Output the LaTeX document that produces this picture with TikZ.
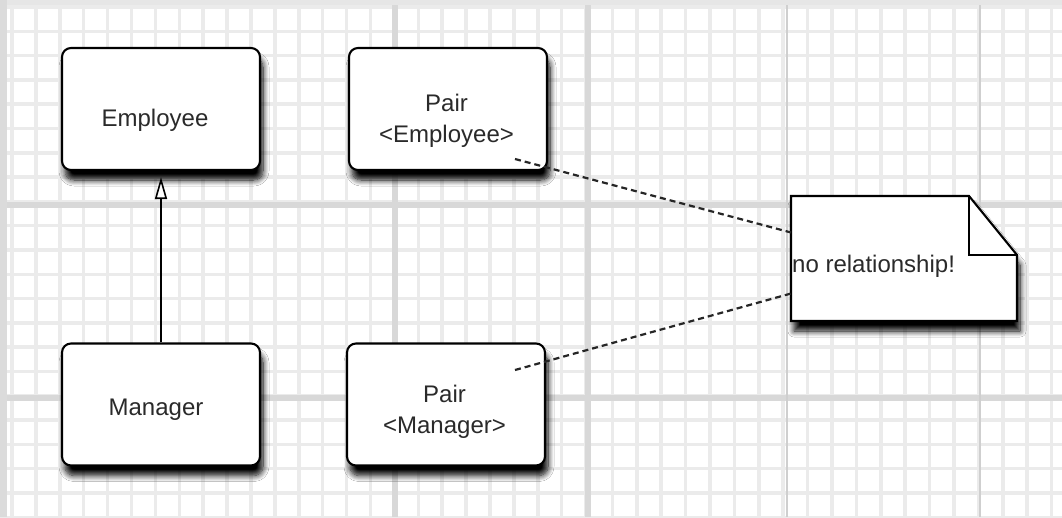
\documentclass[tikz,border=0pt]{standalone}
\usepackage{fontspec}
\setmainfont{Liberation Sans}
\usetikzlibrary{arrows.meta,shadows.blur}
\definecolor{textcol}{HTML}{2A2A2A}
\definecolor{gridcol}{HTML}{EBEBEB}
\definecolor{gridheavy}{HTML}{D8D8D8}
\definecolor{gridthin}{HTML}{CFCFCF}
% place a (possibly multi-line) label with a small offset inside its box
\newcommand{\offsetlabel}[3]{\raisebox{#2}[\height][\depth]{\hspace*{#1}\begin{tabular}{@{}c@{}}#3\end{tabular}}}
\tikzset{
  gridline/.style={draw=gridcol, line width=3.5pt},
  gridmajor/.style={draw=gridheavy, line width=6pt},
  gridfine/.style={draw=gridthin, line width=1.5pt},
  softshadow/.style={blur shadow={shadow xshift=3pt, shadow yshift=-10pt,
      shadow blur radius=6pt, shadow opacity=100, shadow blur steps=10}},
  classbox/.style={draw=black, line width=2.1pt, rounded corners=9pt, fill=white,
      minimum width=198pt, minimum height=122pt, inner sep=0pt,
      font=\fontsize{24}{31}\selectfont, text=textcol, softshadow},
  noteframe/.style={minimum width=226pt, minimum height=125pt, inner sep=0pt, outer sep=0pt},
  notebody/.style={draw=black, line width=2.1pt, fill=white, softshadow},
  notefold/.style={draw=black, line width=1.7pt},
  notelabel/.style={anchor=west, inner sep=0pt, font=\fontsize{24}{31}\selectfont, text=textcol},
  inherit/.style={draw=black, line width=2pt, shorten >=6pt,
      -{Triangle[length=22pt, width=12pt, fill=white, line width=1.6pt]}},
  dependency/.style={draw=black!85, line width=2.2pt, dash pattern=on 6pt off 4pt}
}
\begin{document}
\begin{tikzpicture}[x=1pt, y=-1pt]
\useasboundingbox (0,0) rectangle (1062,517);
\fill[white] (0,0) rectangle (1062,517);

% squared paper in the background
\foreach \i in {0,...,24} \draw[gridline] ({12+23.9*\i},0) -- ++(0,517);
\foreach \i in {1,...,19} \draw[gridline] ({588+24.4*\i},0) -- ++(0,517);
\foreach \j in {0,...,21} \draw[gridline] (0,{7+24.3*\j}) -- ++(1062,0);
\draw[gridmajor] (0,205) -- (1062,205);
\draw[gridmajor] (0,398) -- (1062,398);
\draw[gridmajor] (395,0) -- (395,517);
\draw[gridmajor] (588,0) -- (588,517);
\draw[gridfine] (787,0) -- (787,517);
\draw[gridfine] (980,0) -- (980,517);
\fill[gridcol!80!gray!60] (0,0) rectangle (1062,5);
\fill[gridcol!70!gray!70] (0,0) rectangle (7,517);

% classes
\node[classbox] (emp)   at (161,109)   {\offsetlabel{-12pt}{-11pt}{Employee}};
\node[classbox] (pairE) at (448,109)   {\offsetlabel{-3pt}{-12pt}{Pair\\\textless Employee\textgreater}};
\node[classbox] (man)   at (161,404.5) {\offsetlabel{-10pt}{-5pt}{Manager}};
\node[classbox] (pairM) at (446,404.5) {\offsetlabel{-3pt}{-7pt}{Pair\\\textless Manager\textgreater}};

% note with a folded corner
\node[noteframe] (note) at (904,258.5) {};
\path[notebody] (note.north west) -- ([xshift=-48pt]note.north east)
  -- ([yshift=-59pt]note.north east) -- (note.south east)
  -- (note.south west) -- cycle;
\draw[notefold] ([xshift=-48pt]note.north east)
  -- ([xshift=-48pt,yshift=-59pt]note.north east)
  -- ([yshift=-59pt]note.north east);
\node[notelabel] (notetext) at ([xshift=1pt,yshift=-8pt]note.west) {no relationship!};

% inheritance
\draw[inherit] (man.north) -- (emp.south);

% dashed note links
\coordinate (pEend) at (515,159);
\coordinate (pMend) at (515,370);
\draw[dependency] (pEend) -- ([yshift=26pt]note.west);
\draw[dependency] (pMend) -- ([yshift=-35pt]note.west);
\end{tikzpicture}
\end{document}
